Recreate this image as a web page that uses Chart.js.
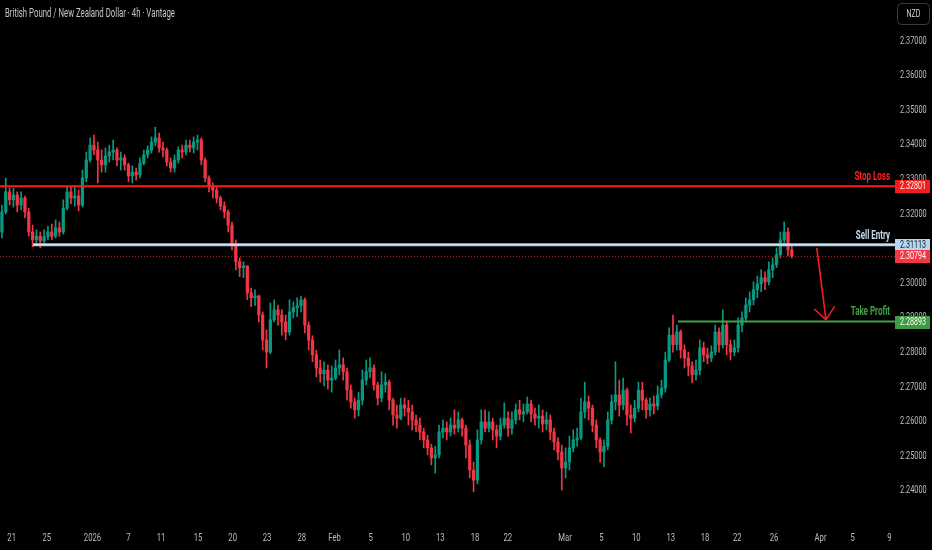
<!DOCTYPE html>
<html>
<head>
<meta charset="utf-8">
<script src="https://cdn.jsdelivr.net/npm/chart.js@4.4.1/dist/chart.umd.min.js"></script>
<style>
  html, body { margin: 0; padding: 0; background: #000; }
  #wrap { width: 932px; height: 550px; position: relative; }
</style>
</head>
<body>
<div id="wrap"><canvas id="priceChart"></canvas></div>
<script>
// GBP/NZD candles (one candle per 8h)
const opens = [
  2.3148, 2.3206, 2.3264, 2.3241, 2.3255, 2.3226, 2.3246, 2.3206, 2.3148, 2.3125,
  2.3136, 2.3122, 2.3134, 2.3148, 2.3136, 2.3160, 2.3148, 2.3217, 2.3264, 2.3246,
  2.3252, 2.3226, 2.3304, 2.3356, 2.3399, 2.3385, 2.3356, 2.3342, 2.3368, 2.3379,
  2.3385, 2.3356, 2.3362, 2.3342, 2.3310, 2.3321, 2.3313, 2.3347, 2.3371, 2.3385,
  2.3408, 2.3420, 2.3391, 2.3385, 2.3350, 2.3333, 2.3356, 2.3385, 2.3379, 2.3399,
  2.3391, 2.3408, 2.3414, 2.3356, 2.3304, 2.3281, 2.3269, 2.3246, 2.3223, 2.3206,
  2.3168, 2.3110, 2.3062, 2.3045, 2.3050, 2.2972, 2.2958, 2.2963, 2.2908, 2.2836,
  2.2801, 2.2894, 2.2923, 2.2908, 2.2888, 2.2859, 2.2917, 2.2929, 2.2935, 2.2952,
  2.2879, 2.2836, 2.2793, 2.2755, 2.2738, 2.2749, 2.2720, 2.2726, 2.2755, 2.2764,
  2.2744, 2.2691, 2.2657, 2.2634, 2.2662, 2.2720, 2.2744, 2.2755, 2.2706, 2.2668,
  2.2706, 2.2714, 2.2662, 2.2619, 2.2610, 2.2648, 2.2639, 2.2628, 2.2605, 2.2590,
  2.2570, 2.2547, 2.2524, 2.2495, 2.2504, 2.2570, 2.2581, 2.2570, 2.2590, 2.2581,
  2.2605, 2.2581, 2.2532, 2.2460, 2.2431, 2.2547, 2.2599, 2.2581, 2.2599, 2.2576,
  2.2558, 2.2590, 2.2610, 2.2581, 2.2605, 2.2634, 2.2622, 2.2628, 2.2651, 2.2622,
  2.2610, 2.2616, 2.2593, 2.2605, 2.2570, 2.2541, 2.2512, 2.2466, 2.2483, 2.2524,
  2.2547, 2.2553, 2.2628, 2.2657, 2.2639, 2.2590, 2.2547, 2.2512, 2.2529, 2.2605,
  2.2657, 2.2677, 2.2648, 2.2691, 2.2619, 2.2610, 2.2639, 2.2691, 2.2662, 2.2634,
  2.2651, 2.2645, 2.2677, 2.2697, 2.2778, 2.2850, 2.2822, 2.2859, 2.2807, 2.2784,
  2.2761, 2.2735, 2.2749, 2.2813, 2.2793, 2.2784, 2.2801, 2.2859, 2.2822, 2.2879,
  2.2822, 2.2801, 2.2813, 2.2879, 2.2900, 2.2937, 2.2952, 2.2981, 2.2998, 2.3016,
  2.3004, 2.3039, 2.3053, 2.3082, 2.3125, 2.3148, 2.3096
];
const highs = [
  2.3226, 2.3304, 2.3275, 2.3275, 2.3264, 2.3264, 2.3252, 2.3217, 2.3168, 2.3154,
  2.3148, 2.3154, 2.3165, 2.3171, 2.3183, 2.3177, 2.3241, 2.3281, 2.3281, 2.3281,
  2.3269, 2.3327, 2.3379, 2.3420, 2.3428, 2.3408, 2.3385, 2.3391, 2.3399, 2.3414,
  2.3391, 2.3379, 2.3371, 2.3347, 2.3339, 2.3333, 2.3362, 2.3385, 2.3397, 2.3423,
  2.3451, 2.3434, 2.3408, 2.3391, 2.3362, 2.3371, 2.3394, 2.3399, 2.3414, 2.3414,
  2.3423, 2.3428, 2.3420, 2.3362, 2.3310, 2.3290, 2.3281, 2.3252, 2.3235, 2.3212,
  2.3177, 2.3125, 2.3073, 2.3062, 2.3050, 2.2986, 2.2981, 2.2966, 2.2917, 2.2865,
  2.2943, 2.2952, 2.2937, 2.2923, 2.2908, 2.2952, 2.2946, 2.2958, 2.2963, 2.2958,
  2.2888, 2.2848, 2.2807, 2.2778, 2.2773, 2.2764, 2.2761, 2.2778, 2.2807, 2.2784,
  2.2755, 2.2706, 2.2668, 2.2685, 2.2749, 2.2778, 2.2784, 2.2764, 2.2714, 2.2744,
  2.2738, 2.2720, 2.2668, 2.2648, 2.2668, 2.2668, 2.2662, 2.2648, 2.2619, 2.2610,
  2.2581, 2.2561, 2.2535, 2.2529, 2.2590, 2.2605, 2.2599, 2.2610, 2.2634, 2.2628,
  2.2610, 2.2590, 2.2547, 2.2483, 2.2576, 2.2634, 2.2634, 2.2628, 2.2610, 2.2590,
  2.2610, 2.2654, 2.2628, 2.2628, 2.2651, 2.2662, 2.2651, 2.2671, 2.2662, 2.2639,
  2.2648, 2.2634, 2.2628, 2.2619, 2.2581, 2.2553, 2.2532, 2.2524, 2.2558, 2.2576,
  2.2581, 2.2668, 2.2714, 2.2674, 2.2648, 2.2605, 2.2553, 2.2547, 2.2628, 2.2677,
  2.2773, 2.2720, 2.2726, 2.2697, 2.2648, 2.2662, 2.2714, 2.2714, 2.2668, 2.2668,
  2.2674, 2.2703, 2.2720, 2.2801, 2.2871, 2.2908, 2.2879, 2.2865, 2.2822, 2.2801,
  2.2773, 2.2778, 2.2836, 2.2830, 2.2813, 2.2819, 2.2879, 2.2871, 2.2923, 2.2888,
  2.2836, 2.2836, 2.2900, 2.2917, 2.2958, 2.2975, 2.3004, 2.3021, 2.3039, 2.3033,
  2.3062, 2.3073, 2.3102, 2.3148, 2.3177, 2.3160, 2.3113
];
const lows = [
  2.3131, 2.3200, 2.3226, 2.3220, 2.3206, 2.3212, 2.3189, 2.3136, 2.3105, 2.3113,
  2.3102, 2.3113, 2.3125, 2.3125, 2.3131, 2.3136, 2.3142, 2.3212, 2.3229, 2.3223,
  2.3209, 2.3220, 2.3293, 2.3350, 2.3371, 2.3290, 2.3321, 2.3321, 2.3350, 2.3356,
  2.3339, 2.3327, 2.3327, 2.3293, 2.3290, 2.3298, 2.3304, 2.3342, 2.3362, 2.3376,
  2.3397, 2.3379, 2.3365, 2.3339, 2.3321, 2.3321, 2.3347, 2.3362, 2.3371, 2.3379,
  2.3376, 2.3385, 2.3342, 2.3293, 2.3264, 2.3246, 2.3232, 2.3212, 2.3189, 2.3148,
  2.3096, 2.3039, 2.3019, 2.3016, 2.2952, 2.2932, 2.2935, 2.2888, 2.2807, 2.2755,
  2.2796, 2.2888, 2.2879, 2.2850, 2.2836, 2.2850, 2.2900, 2.2903, 2.2917, 2.2856,
  2.2807, 2.2773, 2.2729, 2.2714, 2.2703, 2.2694, 2.2685, 2.2720, 2.2735, 2.2720,
  2.2662, 2.2639, 2.2610, 2.2616, 2.2648, 2.2706, 2.2726, 2.2691, 2.2648, 2.2657,
  2.2685, 2.2634, 2.2590, 2.2581, 2.2605, 2.2616, 2.2590, 2.2576, 2.2570, 2.2547,
  2.2524, 2.2504, 2.2475, 2.2451, 2.2495, 2.2553, 2.2547, 2.2558, 2.2564, 2.2570,
  2.2558, 2.2495, 2.2437, 2.2397, 2.2420, 2.2535, 2.2570, 2.2570, 2.2547, 2.2524,
  2.2547, 2.2581, 2.2558, 2.2564, 2.2593, 2.2605, 2.2599, 2.2622, 2.2599, 2.2590,
  2.2581, 2.2570, 2.2576, 2.2547, 2.2518, 2.2489, 2.2402, 2.2437, 2.2460, 2.2512,
  2.2529, 2.2547, 2.2610, 2.2605, 2.2570, 2.2524, 2.2483, 2.2469, 2.2518, 2.2593,
  2.2634, 2.2616, 2.2634, 2.2590, 2.2567, 2.2599, 2.2628, 2.2634, 2.2610, 2.2616,
  2.2622, 2.2634, 2.2668, 2.2685, 2.2773, 2.2801, 2.2807, 2.2784, 2.2755, 2.2732,
  2.2712, 2.2720, 2.2735, 2.2773, 2.2767, 2.2773, 2.2793, 2.2801, 2.2813, 2.2793,
  2.2778, 2.2790, 2.2801, 2.2859, 2.2888, 2.2917, 2.2937, 2.2958, 2.2975, 2.2981,
  2.2995, 2.3016, 2.3045, 2.3073, 2.3107, 2.3079, 2.3073
];
const closes = [
  2.3206, 2.3264, 2.3241, 2.3255, 2.3226, 2.3246, 2.3206, 2.3148, 2.3125, 2.3136,
  2.3122, 2.3134, 2.3148, 2.3136, 2.3160, 2.3148, 2.3217, 2.3264, 2.3246, 2.3252,
  2.3226, 2.3304, 2.3356, 2.3399, 2.3385, 2.3356, 2.3342, 2.3368, 2.3379, 2.3385,
  2.3356, 2.3362, 2.3342, 2.3310, 2.3321, 2.3313, 2.3347, 2.3371, 2.3385, 2.3408,
  2.3420, 2.3391, 2.3385, 2.3350, 2.3333, 2.3356, 2.3385, 2.3379, 2.3399, 2.3391,
  2.3408, 2.3414, 2.3356, 2.3304, 2.3281, 2.3269, 2.3246, 2.3223, 2.3206, 2.3168,
  2.3110, 2.3062, 2.3045, 2.3050, 2.2972, 2.2958, 2.2963, 2.2908, 2.2836, 2.2801,
  2.2894, 2.2923, 2.2908, 2.2888, 2.2859, 2.2917, 2.2929, 2.2935, 2.2952, 2.2879,
  2.2836, 2.2793, 2.2755, 2.2738, 2.2749, 2.2720, 2.2726, 2.2755, 2.2764, 2.2744,
  2.2691, 2.2657, 2.2634, 2.2662, 2.2720, 2.2744, 2.2755, 2.2706, 2.2668, 2.2706,
  2.2714, 2.2662, 2.2619, 2.2610, 2.2648, 2.2639, 2.2628, 2.2605, 2.2590, 2.2570,
  2.2547, 2.2524, 2.2495, 2.2504, 2.2570, 2.2581, 2.2570, 2.2590, 2.2581, 2.2605,
  2.2581, 2.2532, 2.2460, 2.2431, 2.2547, 2.2599, 2.2581, 2.2599, 2.2576, 2.2558,
  2.2590, 2.2610, 2.2581, 2.2605, 2.2634, 2.2622, 2.2628, 2.2651, 2.2622, 2.2610,
  2.2616, 2.2593, 2.2605, 2.2570, 2.2541, 2.2512, 2.2466, 2.2483, 2.2524, 2.2547,
  2.2553, 2.2628, 2.2657, 2.2639, 2.2590, 2.2547, 2.2512, 2.2529, 2.2605, 2.2657,
  2.2677, 2.2648, 2.2691, 2.2619, 2.2610, 2.2639, 2.2691, 2.2662, 2.2634, 2.2651,
  2.2645, 2.2677, 2.2697, 2.2778, 2.2850, 2.2822, 2.2859, 2.2807, 2.2784, 2.2761,
  2.2735, 2.2749, 2.2813, 2.2793, 2.2784, 2.2801, 2.2859, 2.2822, 2.2879, 2.2822,
  2.2801, 2.2813, 2.2879, 2.2900, 2.2937, 2.2952, 2.2981, 2.2998, 2.3016, 2.3004,
  2.3039, 2.3053, 2.3082, 2.3125, 2.3148, 2.3096, 2.3079
];

// time axis: label positions (candle index) and texts
const timeTickPos = [2.55, 11.68, 23.62, 32.96, 41.49, 51.14, 60.18, 69.13, 78.18, 86.73,
  96.17, 105.3, 114.32, 123.37, 131.9, 146.84, 156.31, 165.44, 174.41, 183.35,
  191.77, 201.35, 213.48, 221.87, 231.42];
const timeTickText = ['21', '25', '2026', '7', '11', '15', '20', '23', '28', 'Feb',
  '5', '10', '13', '18', '22', 'Mar', '5', '10', '13', '18',
  '22', '26', 'Apr', '5', '9'];
const priceTicks = [2.24, 2.25, 2.26, 2.27, 2.28, 2.29, 2.30, 2.31, 2.32, 2.33, 2.34, 2.35, 2.36, 2.37];

// trade levels
const stopLoss = 2.32801;
const sellEntry = 2.31113;
const lastPrice = 2.30794;
const takeProfit = 2.28893;
const sellEntryFrom = 8.1;     // candle index where the entry line starts
const takeProfitFrom = 176.3;  // candle index where the target line starts
const arrowFrom = { x: 212.5, y: 2.3102 };
const arrowTo = { x: 214.9, y: 2.2894 };

const UP = '#089981';
const DOWN = '#f23645';
const FONT = "Roboto, 'Liberation Sans', sans-serif";
const SQUEEZE = 0.7; // the screenshot text is narrow

const candleColor = (ctx) => closes[ctx.dataIndex] >= opens[ctx.dataIndex] ? UP : DOWN;

const wickData = lows.map((l, i) => ({ x: i, y: [l, highs[i]] }));
const bodyData = opens.map((o, i) => ({ x: i, y: [o, closes[i]] }));

// narrow text: fillText with a maxWidth below the natural width
function narrowText(ctx, text, x, y, k) {
    ctx.fillText(text, x, y, ctx.measureText(text).width * k);
}

// same trick for the axis tick labels, and no label overhang padding
function tidyAxis(scale, k) {
    scale.paddingTop = 0;
    scale.paddingBottom = 0;
    scale.paddingLeft = 0;
    scale.paddingRight = 0;
    if (scale._squeezed) return;
    scale._squeezed = true;
    const base = scale.getLabelItems;
    scale.getLabelItems = function (area) {
        const items = base.call(this, area);
        for (const it of items) {
            this.ctx.font = it.font.string;
            it.options.maxWidth = this.ctx.measureText(it.label).width * k;
        }
        return items;
    };
}

function priceBox(ctx, y, value, fill, textColor) {
    ctx.fillStyle = fill;
    ctx.fillRect(895, Math.round(y) - 6, 35, 13);
    ctx.fillStyle = textColor;
    ctx.font = '10.5px ' + FONT;
    ctx.textAlign = 'left';
    ctx.textBaseline = 'middle';
    narrowText(ctx, value.toFixed(5), 900, Math.round(y) + 0.5, 0.68);
}

function hLine(ctx, x0, x1, y, color, width, dash) {
    ctx.save();
    ctx.strokeStyle = color;
    ctx.lineWidth = width;
    ctx.setLineDash(dash || []);
    ctx.beginPath();
    ctx.moveTo(x0, y);
    ctx.lineTo(x1, y);
    ctx.stroke();
    ctx.restore();
}

function lineLabel(ctx, text, x, y, color) {
    ctx.fillStyle = color;
    ctx.font = 'bold 12.5px ' + FONT;
    ctx.textAlign = 'right';
    ctx.textBaseline = 'bottom';
    narrowText(ctx, text, x, y, 0.64);
}

const overlay = {
    id: 'overlay',
    beforeDraw(chart) {
        const { ctx, width, height } = chart;
        ctx.save();
        ctx.fillStyle = '#000';
        ctx.fillRect(0, 0, width, height);
        ctx.restore();
    },
    afterDatasetsDraw(chart) {
        const { ctx, chartArea: a, scales: { x, y } } = chart;
        const ySL = y.getPixelForValue(stopLoss);
        const yEntry = y.getPixelForValue(sellEntry);
        const yLast = y.getPixelForValue(lastPrice);
        const yTP = y.getPixelForValue(takeProfit);

        hLine(ctx, a.left, a.right, Math.round(yLast) + 0.5, 'rgba(230, 50, 60, 0.75)', 1, [1, 2]);
        hLine(ctx, a.left, a.right, ySL, '#ff1a1a', 2);
        hLine(ctx, x.getPixelForValue(sellEntryFrom), a.right, yEntry, '#a9cbe8', 3);
        hLine(ctx, x.getPixelForValue(sellEntryFrom), a.right, yEntry, '#d6e8f7', 1);
        hLine(ctx, x.getPixelForValue(takeProfitFrom), a.right, yTP, '#43a047', 2);

        // target arrow
        const x0 = x.getPixelForValue(arrowFrom.x), y0 = y.getPixelForValue(arrowFrom.y);
        const x1 = x.getPixelForValue(arrowTo.x), y1 = y.getPixelForValue(arrowTo.y);
        const back = Math.atan2(y0 - y1, x0 - x1);
        const head = 16, spread = 40 * Math.PI / 180;
        ctx.save();
        ctx.strokeStyle = '#ff1a1a';
        ctx.lineWidth = 1.6;
        ctx.beginPath();
        ctx.moveTo(x0, y0);
        ctx.lineTo(x1, y1);
        ctx.moveTo(x1 + head * Math.cos(back + spread), y1 + head * Math.sin(back + spread));
        ctx.lineTo(x1, y1);
        ctx.lineTo(x1 + head * Math.cos(back - spread), y1 + head * Math.sin(back - spread));
        ctx.stroke();
        ctx.restore();

        ctx.save();
        lineLabel(ctx, 'Stop Loss', a.right - 5, ySL - 3, '#ff2020');
        lineLabel(ctx, 'Sell Entry', a.right - 5, yEntry - 3, '#c6dcee');
        lineLabel(ctx, 'Take Profit', a.right - 5, yTP - 3, '#43a047');
        ctx.restore();
    },
    afterDraw(chart) {
        const { ctx, scales: { y } } = chart;
        ctx.save();
        priceBox(ctx, y.getPixelForValue(stopLoss), stopLoss, '#f41c1c', '#ffffff');
        priceBox(ctx, y.getPixelForValue(sellEntry), sellEntry, '#b6d5ef', '#131722');
        priceBox(ctx, y.getPixelForValue(lastPrice), lastPrice, '#f23645', '#ffffff');
        priceBox(ctx, y.getPixelForValue(takeProfit), takeProfit, '#3d9b41', '#ffffff');

        // symbol title
        ctx.fillStyle = '#c3c6ce';
        ctx.font = '12px ' + FONT;
        ctx.textAlign = 'left';
        ctx.textBaseline = 'middle';
        ctx.fillText('British Pound / New Zealand Dollar · 4h · Vantage', 5, 14, 170);

        // currency button
        ctx.strokeStyle = '#363a45';
        ctx.lineWidth = 1;
        ctx.beginPath();
        ctx.roundRect(897.5, 3.5, 32, 21, 4);
        ctx.stroke();
        ctx.fillStyle = '#d1d4dc';
        ctx.font = '10px ' + FONT;
        ctx.textAlign = 'center';
        narrowText(ctx, 'NZD', 913.5, 14.5, SQUEEZE);
        ctx.restore();
    }
};

const el = document.getElementById('priceChart');

if (el) {
    new Chart(el, {
        type: 'bar',
        data: {
            datasets: [
                {
                    label: 'wick',
                    data: wickData,
                    backgroundColor: candleColor,
                    barThickness: 1,
                    grouped: false,
                },
                {
                    label: 'body',
                    data: bodyData,
                    backgroundColor: candleColor,
                    barThickness: 2.6,
                    minBarLength: 1,
                    grouped: false,
                },
            ],
        },
        options: {
            responsive: true,
            maintainAspectRatio: false,
            animation: false,
            layout: { padding: 0 },
            plugins: {
                legend: { display: false },
                tooltip: { enabled: false },
            },
            scales: {
                x: {
                    type: 'linear',
                    offset: false,
                    min: -0.5,
                    max: 232.9,
                    grid: { display: false, drawTicks: false },
                    border: { display: false },
                    afterFit: (s) => { s.height = 30; tidyAxis(s, SQUEEZE); },
                    afterBuildTicks: (s) => { s.ticks = timeTickPos.map(v => ({ value: v })); },
                    ticks: {
                        autoSkip: false,
                        maxRotation: 0,
                        padding: 12,
                        color: '#b8bcc6',
                        font: { family: FONT, size: 11 },
                        callback: (v, i) => timeTickText[i],
                    },
                },
                y: {
                    position: 'right',
                    min: 2.231561,
                    max: 2.38185,
                    grid: { display: false, drawTicks: false },
                    border: { display: false },
                    afterFit: (s) => { s.width = 37; tidyAxis(s, SQUEEZE); },
                    afterBuildTicks: (s) => { s.ticks = priceTicks.map(v => ({ value: v })); },
                    ticks: {
                        padding: 5,
                        color: '#b8bcc6',
                        font: { family: FONT, size: 10.5 },
                        callback: (v) => v.toFixed(5),
                    },
                },
            },
        },
        plugins: [overlay],
    });
}
</script>
</body>
</html>
